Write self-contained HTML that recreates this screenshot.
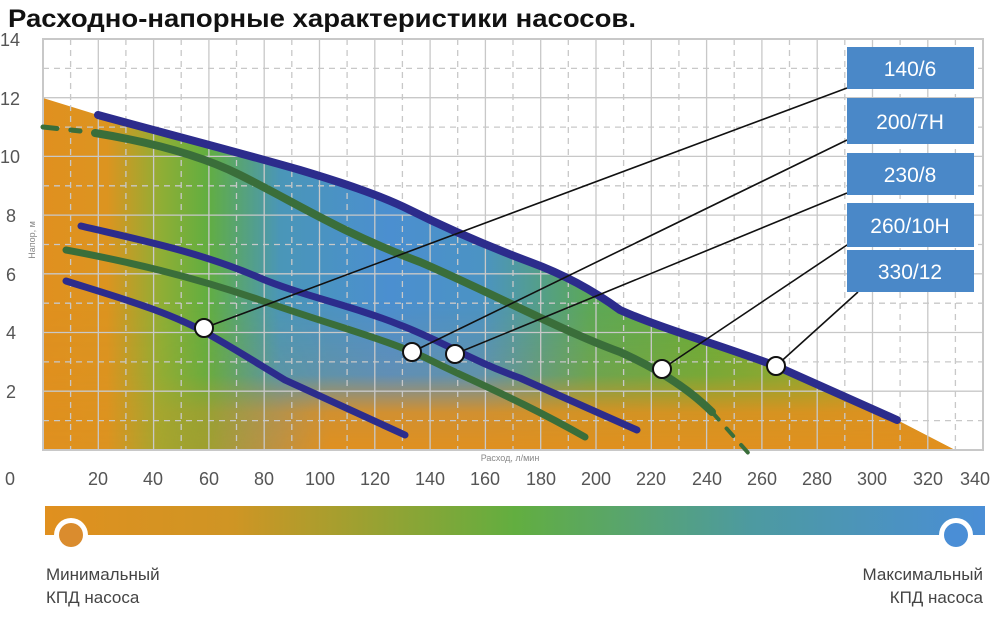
<!DOCTYPE html>
<html><head><meta charset="utf-8"><style>
body{margin:0;background:#fff;width:1000px;height:629px;overflow:hidden;font-family:"Liberation Sans",sans-serif}
</style></head><body>
<svg width="1000" height="629" viewBox="0 0 1000 629" xmlns="http://www.w3.org/2000/svg" font-family="Liberation Sans, sans-serif">
<defs>
<linearGradient id="h" x1="43" y1="0" x2="955" y2="0" gradientUnits="userSpaceOnUse">
<stop offset="0" stop-color="#e0901f"/>
<stop offset="0.07" stop-color="#dc9420"/>
<stop offset="0.13" stop-color="#8fae35"/>
<stop offset="0.18" stop-color="#62ae40"/>
<stop offset="0.26" stop-color="#4a96b8"/>
<stop offset="0.38" stop-color="#4b8fd0"/>
<stop offset="0.48" stop-color="#4b93c4"/>
<stop offset="0.6" stop-color="#5ba858"/>
<stop offset="0.72" stop-color="#66ad3c"/>
<stop offset="0.85" stop-color="#8aab30"/>
<stop offset="1" stop-color="#d69222"/>
</linearGradient>
<linearGradient id="v" x1="0" y1="300" x2="0" y2="450" gradientUnits="userSpaceOnUse">
<stop offset="0" stop-color="#e0901f" stop-opacity="0"/>
<stop offset="0.5" stop-color="#e0901f" stop-opacity="0.15"/>
<stop offset="0.75" stop-color="#e0901f" stop-opacity="0.9"/>
<stop offset="1" stop-color="#e0901f" stop-opacity="1"/>
</linearGradient>
<linearGradient id="mg" x1="150" y1="0" x2="330" y2="0" gradientUnits="userSpaceOnUse">
<stop offset="0" stop-color="#fff" stop-opacity="0.25"/>
<stop offset="1" stop-color="#fff" stop-opacity="1"/>
</linearGradient>
<mask id="m" maskUnits="userSpaceOnUse" x="0" y="0" width="1000" height="629">
<rect x="0" y="0" width="1000" height="629" fill="url(#mg)"/>
</mask>
<linearGradient id="bar" x1="45" y1="0" x2="985" y2="0" gradientUnits="userSpaceOnUse">
<stop offset="0" stop-color="#e0901f"/>
<stop offset="0.2" stop-color="#cf9524"/>
<stop offset="0.5" stop-color="#62ae40"/>
<stop offset="0.75" stop-color="#4d9aa0"/>
<stop offset="1" stop-color="#4a8ed6"/>
</linearGradient>
</defs>
<text x="8" y="27" font-size="25" font-weight="bold" fill="#111" textLength="628" lengthAdjust="spacingAndGlyphs">Расходно-напорные характеристики насосов.</text>
<path d="M43,98 L98,115 C160,132 230,150 300,170 C340,182 380,195 410,210 C450,230 490,247 530,262 C560,273 590,288 620,310 C660,328 720,345 776,366 L897,420 L955,450 L43,450 Z" fill="url(#h)"/>
<path d="M43,98 L98,115 C160,132 230,150 300,170 C340,182 380,195 410,210 C450,230 490,247 530,262 C560,273 590,288 620,310 C660,328 720,345 776,366 L897,420 L955,450 L43,450 Z" fill="url(#v)" mask="url(#m)"/>
<g stroke="#c8c8c8" stroke-width="1.3" fill="none">
<g stroke-dasharray="6,5">
<path d="M70.6,39V450M125.9,39V450M181.2,39V450M236.5,39V450M291.8,39V450M347.1,39V450M402.4,39V450M457.7,39V450M513,39V450M568.3,39V450M623.6,39V450M678.9,39V450M734.2,39V450M789.5,39V450M844.8,39V450M900.1,39V450M955.4,39V450"/>
<path d="M43,68.4H983M43,127.1H983M43,185.8H983M43,244.5H983M43,303.2H983M43,361.9H983M43,420.6H983"/>
</g>
<path d="M98.3,39V450M153.6,39V450M208.9,39V450M264.2,39V450M319.5,39V450M374.8,39V450M430.1,39V450M485.4,39V450M540.7,39V450M596,39V450M651.3,39V450M706.6,39V450M761.9,39V450M817.2,39V450M872.5,39V450M927.8,39V450"/>
<path d="M43,97.7H983M43,156.4H983M43,215.1H983M43,273.8H983M43,332.5H983M43,391.2H983"/>
<rect x="43" y="39" width="940" height="411" stroke-width="2"/>
</g>
<g fill="none" stroke-linecap="round" stroke-linejoin="round">
<path d="M98,115 C160,132 230,150 300,170 C340,182 380,195 410,210 C450,230 490,247 530,262 C560,273 590,288 620,310 C660,328 720,345 776,366 L897,420" stroke="#2c2c8c" stroke-width="8"/>
<path d="M43,127 L80,131" stroke="#3a6e3a" stroke-width="5" stroke-dasharray="14,14"/>
<path d="M95,133 C150,142 200,155 240,175 C300,205 340,232 420,262 C490,292 560,330 620,352 C660,370 690,390 712,412" stroke="#3a6e3a" stroke-width="8"/>
<path d="M712,412 L750,455" stroke="#3a6e3a" stroke-width="4" stroke-dasharray="10,12"/>
<path d="M81,226 C140,240 200,252 260,278 C300,295 350,305 400,325 C440,340 470,360 520,378 L637,430" stroke="#2c2c8c" stroke-width="7"/>
<path d="M66,250 C130,262 190,276 260,300 C330,325 390,340 430,360 C470,380 520,400 585,437" stroke="#3a6e3a" stroke-width="7"/>
<path d="M66,281 C120,298 170,312 210,335 C240,352 260,365 285,380 L405,435" stroke="#2c2c8c" stroke-width="7"/>
</g>
<g stroke="#111" stroke-width="1.6">
<line x1="204" y1="328" x2="847" y2="88"/>
<line x1="412" y1="352" x2="847" y2="140"/>
<line x1="455" y1="354" x2="847" y2="193"/>
<line x1="662" y1="369" x2="847" y2="245"/>
<line x1="776" y1="366" x2="858" y2="292"/>
</g>
<g fill="#fff" stroke="#111" stroke-width="2">
<circle cx="204" cy="328" r="9"/><circle cx="412" cy="352" r="9"/><circle cx="455" cy="354" r="9"/><circle cx="662" cy="369" r="9"/><circle cx="776" cy="366" r="9"/>
</g>
<g fill="#4a88c8">
<rect x="847" y="47" width="127" height="42"/><rect x="847" y="98" width="127" height="46"/><rect x="847" y="153" width="127" height="42"/><rect x="847" y="203" width="127" height="44"/><rect x="847" y="250" width="127" height="42"/>
</g>
<g fill="#fff" font-size="21" text-anchor="middle">
<text x="910" y="76">140/6</text><text x="910" y="129">200/7H</text><text x="910" y="182">230/8</text><text x="910" y="233">260/10H</text><text x="910" y="279">330/12</text>
</g>
<g fill="#555" font-size="18">
<text x="0" y="46">14</text><text x="0" y="105">12</text><text x="0" y="163">10</text><text x="6" y="222">8</text><text x="6" y="281">6</text><text x="6" y="339">4</text><text x="6" y="398">2</text>
</g>
<g fill="#555" font-size="18" text-anchor="middle">
<text x="10" y="485">0</text><text x="98" y="485">20</text><text x="153" y="485">40</text><text x="209" y="485">60</text><text x="264" y="485">80</text><text x="320" y="485">100</text><text x="375" y="485">120</text><text x="430" y="485">140</text><text x="485" y="485">160</text><text x="541" y="485">180</text><text x="596" y="485">200</text><text x="651" y="485">220</text><text x="707" y="485">240</text><text x="762" y="485">260</text><text x="817" y="485">280</text><text x="872" y="485">300</text><text x="928" y="485">320</text><text x="975" y="485">340</text>
</g>
<text x="510" y="461" font-size="9" fill="#888" text-anchor="middle">Расход, л/мин</text>
<text transform="translate(35,240) rotate(-90)" font-size="9" fill="#888" text-anchor="middle">Напор, м</text>
<rect x="45" y="506" width="940" height="29" fill="url(#bar)"/>
<circle cx="71" cy="535" r="17" fill="#fff"/><circle cx="71" cy="535" r="12" fill="#da8c2e"/>
<circle cx="956" cy="535" r="17" fill="#fff"/><circle cx="956" cy="535" r="12" fill="#4a8ed6"/>
<g fill="#444" font-size="17">
<text x="46" y="580">Минимальный</text><text x="46" y="603">КПД насоса</text>
<text x="983" y="580" text-anchor="end">Максимальный</text><text x="983" y="603" text-anchor="end">КПД насоса</text>
</g>
</svg>
</body></html>
